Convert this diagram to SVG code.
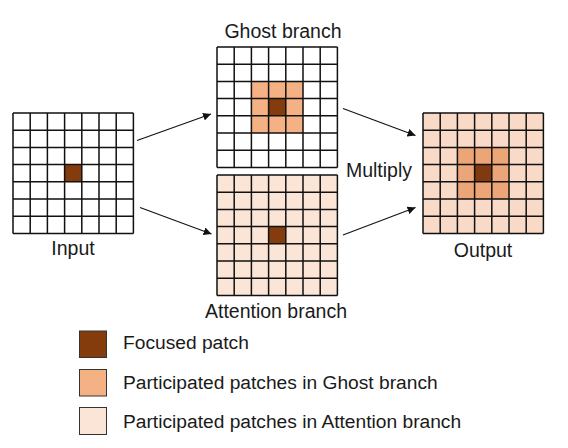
<svg xmlns="http://www.w3.org/2000/svg" width="568" height="448" viewBox="0 0 568 448">
<style>
.lbl{font-family:"Liberation Sans",Arial,sans-serif;font-size:19.5px;fill:#1a1a1a}
.leg{font-family:"Liberation Sans",Arial,sans-serif;font-size:19.2px;fill:#1a1a1a}
.gl{fill:none;stroke:#111;stroke-width:1.5}
.conn{stroke:#111;stroke-width:1.1;fill:none}
.focus{fill:#843c0c}
.ghost{fill:#f4b183}
.att{fill:#fbe5d6}
</style>
<defs>
<marker id="ah" markerUnits="userSpaceOnUse" markerWidth="9" markerHeight="8" refX="8" refY="4" orient="auto">
<path d="M0,0 L8,4 L0,8 Z" fill="#111"/>
</marker>
<path id="gridlines" class="gl" d="M0,0H120.4M0,17.2H120.4M0,34.4H120.4M0,51.6H120.4M0,68.8H120.4M0,86H120.4M0,103.2H120.4M0,120.4H120.4M0,0V120.4M17.2,0V120.4M34.4,0V120.4M51.6,0V120.4M68.8,0V120.4M86,0V120.4M103.2,0V120.4M120.4,0V120.4"/>
</defs>
<rect width="568" height="448" fill="#fff"/>

<g id="input" transform="translate(13,113)">
<rect width="120.4" height="120.4" fill="#fff"/>
<rect class="focus" x="51.6" y="51.6" width="17.2" height="17.2"/>
<use href="#gridlines"/>
</g>
<text class="lbl" x="73" y="255" text-anchor="middle">Input</text>

<g id="ghost" transform="translate(217,47)">
<rect width="120.4" height="120.4" fill="#fff"/>
<rect class="ghost" x="34.4" y="34.4" width="51.6" height="51.6"/>
<rect class="focus" x="51.6" y="51.6" width="17.2" height="17.2"/>
<use href="#gridlines"/>
</g>
<text class="lbl" x="283" y="38" text-anchor="middle">Ghost branch</text>

<g id="attention" transform="translate(217,175)">
<rect class="att" width="120.4" height="120.4"/>
<rect class="focus" x="51.6" y="51.6" width="17.2" height="17.2"/>
<use href="#gridlines" style="stroke:#2a1608"/>
</g>
<text class="lbl" x="276" y="318" text-anchor="middle">Attention branch</text>

<g id="output" transform="translate(423,113)">
<rect width="120.4" height="120.4" fill="#f8dac6"/>
<rect x="34.4" y="34.4" width="51.6" height="51.6" fill="#eba577"/>
<rect x="51.6" y="51.6" width="17.2" height="17.2" fill="#7f3a10"/>
<use href="#gridlines" style="stroke:#2a1608"/>
</g>
<text class="lbl" x="483" y="257" text-anchor="middle">Output</text>

<text class="lbl" x="379" y="177" text-anchor="middle">Multiply</text>

<g id="connectors">
<line class="conn" x1="137" y1="140.5" x2="211" y2="114" marker-end="url(#ah)"/>
<line class="conn" x1="140" y1="207.5" x2="211.5" y2="234" marker-end="url(#ah)"/>
<line class="conn" x1="343" y1="108.5" x2="415.5" y2="135.5" marker-end="url(#ah)"/>
<line class="conn" x1="343" y1="235" x2="415.5" y2="207.5" marker-end="url(#ah)"/>
</g>

<g id="legend">
<rect class="focus" x="79.5" y="331" width="27" height="26.5" stroke="#333" stroke-width="1"/>
<text class="leg" x="123" y="349">Focused patch</text>
<rect class="ghost" x="79.5" y="369.5" width="27" height="26.5" stroke="#333" stroke-width="1"/>
<text class="leg" x="123" y="388.5">Participated patches in Ghost branch</text>
<rect class="att" x="79.5" y="407.5" width="27" height="27" stroke="#333" stroke-width="1"/>
<text class="leg" x="123" y="428">Participated patches in Attention branch</text>
</g>
</svg>
